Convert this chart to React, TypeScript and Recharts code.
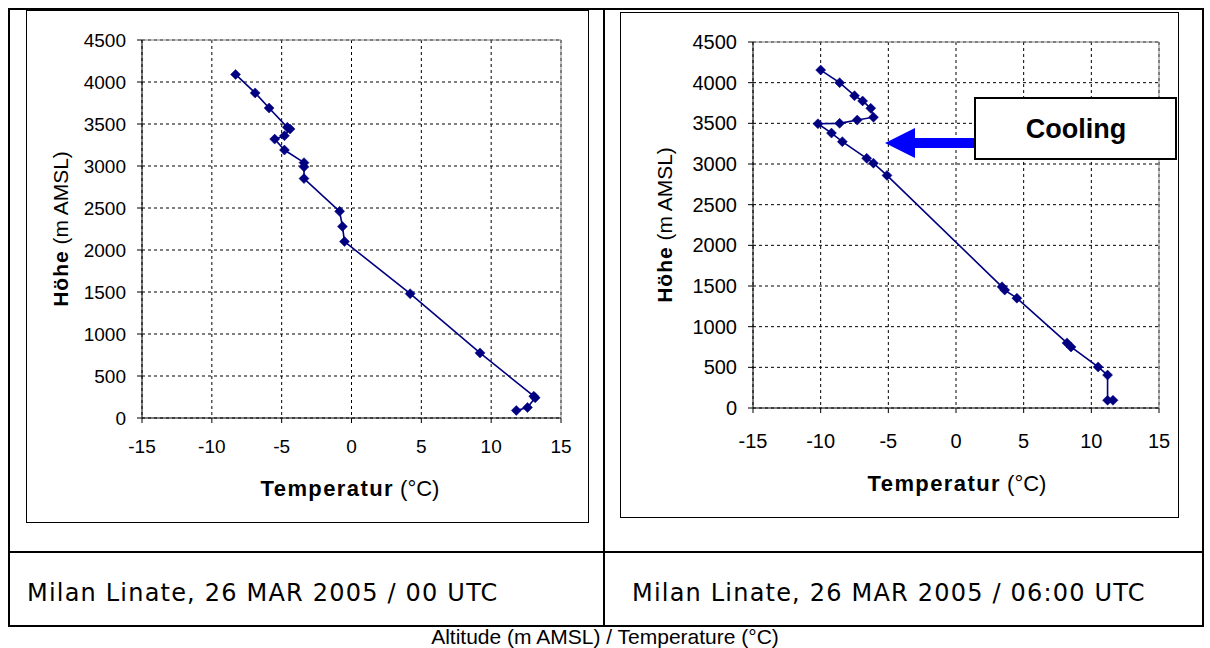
import React from "react";
import { ScatterChart, Scatter, XAxis, YAxis, CartesianGrid, ReferenceLine } from "recharts";

const tempTicks = [-15, -10, -5, 0, 5, 10, 15];
const heightTicks = [0, 500, 1000, 1500, 2000, 2500, 3000, 3500, 4000, 4500];

// Milan Linate 26 MAR 2005, 00 UTC: temperature (°C) / altitude (m AMSL)
const linate00 = [
  { t: -8.3, h: 4090 },
  { t: -6.9, h: 3870 },
  { t: -5.9, h: 3690 },
  { t: -4.6, h: 3460 },
  { t: -4.4, h: 3440 },
  { t: -4.8, h: 3360 },
  { t: -5.5, h: 3320 },
  { t: -4.8, h: 3190 },
  { t: -3.4, h: 3040 },
  { t: -3.4, h: 2990 },
  { t: -3.4, h: 2850 },
  { t: -0.85, h: 2460 },
  { t: -0.65, h: 2280 },
  { t: -0.5, h: 2100 },
  { t: 4.2, h: 1480 },
  { t: 9.2, h: 775 },
  { t: 13.05, h: 260 },
  { t: 13.15, h: 240 },
  { t: 12.6, h: 125 },
  { t: 11.8, h: 90 },
];

// Milan Linate 26 MAR 2005, 06:00 UTC
const linate06 = [
  { t: -10.0, h: 4155 },
  { t: -8.6, h: 4000 },
  { t: -7.5, h: 3840 },
  { t: -6.9, h: 3775 },
  { t: -6.3, h: 3685 },
  { t: -6.1, h: 3575 },
  { t: -7.3, h: 3540 },
  { t: -8.6, h: 3500 },
  { t: -10.2, h: 3495 },
  { t: -9.2, h: 3380 },
  { t: -8.4, h: 3275 },
  { t: -6.6, h: 3070 },
  { t: -6.1, h: 3010 },
  { t: -5.1, h: 2860 },
  { t: 3.4, h: 1490 },
  { t: 3.6, h: 1450 },
  { t: 4.5, h: 1350 },
  { t: 8.2, h: 800 },
  { t: 8.5, h: 750 },
  { t: 10.5, h: 505 },
  { t: 11.2, h: 405 },
  { t: 11.2, h: 95 },
  { t: 11.6, h: 95 },
];

const arial = "'Liberation Sans', Arial, sans-serif";
const navy = "#000080";

function Diamond(props: any) {
  const { cx, cy } = props;
  if (cx == null || cy == null) return null;
  const r = 5;
  return (
    <polygon
      points={`${cx},${cy - r} ${cx + r},${cy} ${cx},${cy + r} ${cx - r},${cy}`}
      fill={navy}
      stroke={navy}
      strokeWidth={0.5}
    />
  );
}

function Sounding({
  data,
  width,
  height,
  margin,
  fontSize,
  xTickMargin,
}: {
  data: { t: number; h: number }[];
  width: number;
  height: number;
  margin: { top: number; right: number; bottom: number; left: number };
  fontSize: number;
  xTickMargin: number;
}) {
  const tick = { fill: "#000", fontSize, fontFamily: arial };
  return (
    <ScatterChart width={width} height={height} margin={margin}>
      <CartesianGrid stroke="#000" strokeDasharray="3 3" strokeWidth={1} />
      <XAxis
        type="number"
        dataKey="t"
        domain={[-15, 15]}
        ticks={tempTicks}
        interval={0}
        height={40}
        tick={tick}
        tickSize={5}
        tickMargin={xTickMargin}
        axisLine={{ stroke: "#000" }}
        tickLine={{ stroke: "#000" }}
        allowDataOverflow
      />
      <YAxis
        type="number"
        dataKey="h"
        domain={[0, 4500]}
        ticks={heightTicks}
        interval={0}
        width={60}
        tick={tick}
        tickSize={5}
        tickMargin={11}
        axisLine={{ stroke: "#000" }}
        tickLine={{ stroke: "#000" }}
        allowDataOverflow
      />
      <ReferenceLine y={4500} stroke="#808080" strokeWidth={1} />
      <ReferenceLine x={15} stroke="#808080" strokeWidth={1} />
      <Scatter
        data={data}
        line={{ stroke: navy, strokeWidth: 1.6 }}
        lineType="joint"
        shape={<Diamond />}
        isAnimationActive={false}
      />
    </ScatterChart>
  );
}

function AxisTitles({ xc, xy, yx, yc }: { xc: number; xy: number; yx: number; yc: number }) {
  return (
    <>
      <text x={xc} y={xy} textAnchor="middle" fontFamily={arial} fontSize={22} fill="#000">
        <tspan fontWeight="bold" letterSpacing={1.4}>Temperatur</tspan>
        <tspan> (°C)</tspan>
      </text>
      <text
        x={yx}
        y={yc}
        textAnchor="middle"
        fontFamily={arial}
        fontSize={21}
        fill="#000"
        transform={`rotate(-90 ${yx} ${yc})`}
      >
        <tspan fontWeight="bold" letterSpacing={1}>Höhe</tspan>
        <tspan> (m AMSL)</tspan>
      </text>
    </>
  );
}

export default function App() {
  const caption = {
    position: "absolute" as const,
    fontFamily: "'DejaVu Sans', sans-serif",
    fontSize: 24,
    letterSpacing: 1.2,
    color: "#000",
    whiteSpace: "nowrap" as const,
  };
  return (
    <div style={{ position: "absolute", left: 0, top: 0, width: 1210, height: 648, background: "#fff" }}>
      {/* table frame */}
      <div style={{ position: "absolute", left: 8, top: 8, width: 1192, height: 615, border: "2px solid #000" }} />
      <div style={{ position: "absolute", left: 603, top: 8, width: 2, height: 617, background: "#000" }} />
      <div style={{ position: "absolute", left: 8, top: 551, width: 1194, height: 2, background: "#000" }} />

      {/* chart boxes */}
      <div style={{ position: "absolute", left: 26, top: 10, width: 561, height: 511, border: "1px solid #000" }} />
      <div style={{ position: "absolute", left: 620, top: 12, width: 557, height: 504, border: "1px solid #000" }} />

      <div style={{ position: "absolute", left: 26, top: 10 }}>
        <Sounding
          data={linate00}
          width={562}
          height={512}
          margin={{ top: 30, right: 27, bottom: 64, left: 56 }}
          fontSize={19}
          xTickMargin={17}
        />
      </div>
      <div style={{ position: "absolute", left: 620, top: 12 }}>
        <Sounding
          data={linate06}
          width={558}
          height={505}
          margin={{ top: 30, right: 19, bottom: 69, left: 73 }}
          fontSize={20}
          xTickMargin={21}
        />
      </div>

      <svg
        width={1210}
        height={648}
        style={{ position: "absolute", left: 0, top: 0, pointerEvents: "none" }}
      >
        <AxisTitles xc={350} xy={496} yx={68} yc={229} />
        <AxisTitles xc={957} xy={491} yx={672} yc={225} />

        {/* Cooling annotation */}
        <polygon points="885,143 915,128 915,138 976,138 976,148 915,148 915,158" fill="#0000ff" />
        <rect x={975} y={98} width={201} height={61} fill="#fff" stroke="#000" strokeWidth={2} />
        <text x={1076} y={138} textAnchor="middle" fontFamily={arial} fontWeight="bold" fontSize={27} fill="#000">
          Cooling
        </text>

        <text x={605} y={644} textAnchor="middle" fontFamily={arial} fontSize={21} fill="#000">
          Altitude (m AMSL) / Temperature (°C)
        </text>
      </svg>

      <div style={{ ...caption, left: 27, top: 579 }}>Milan Linate, 26 MAR 2005 / 00 UTC</div>
      <div style={{ ...caption, left: 632, top: 579 }}>Milan Linate, 26 MAR 2005 / 06:00 UTC</div>
    </div>
  );
}
